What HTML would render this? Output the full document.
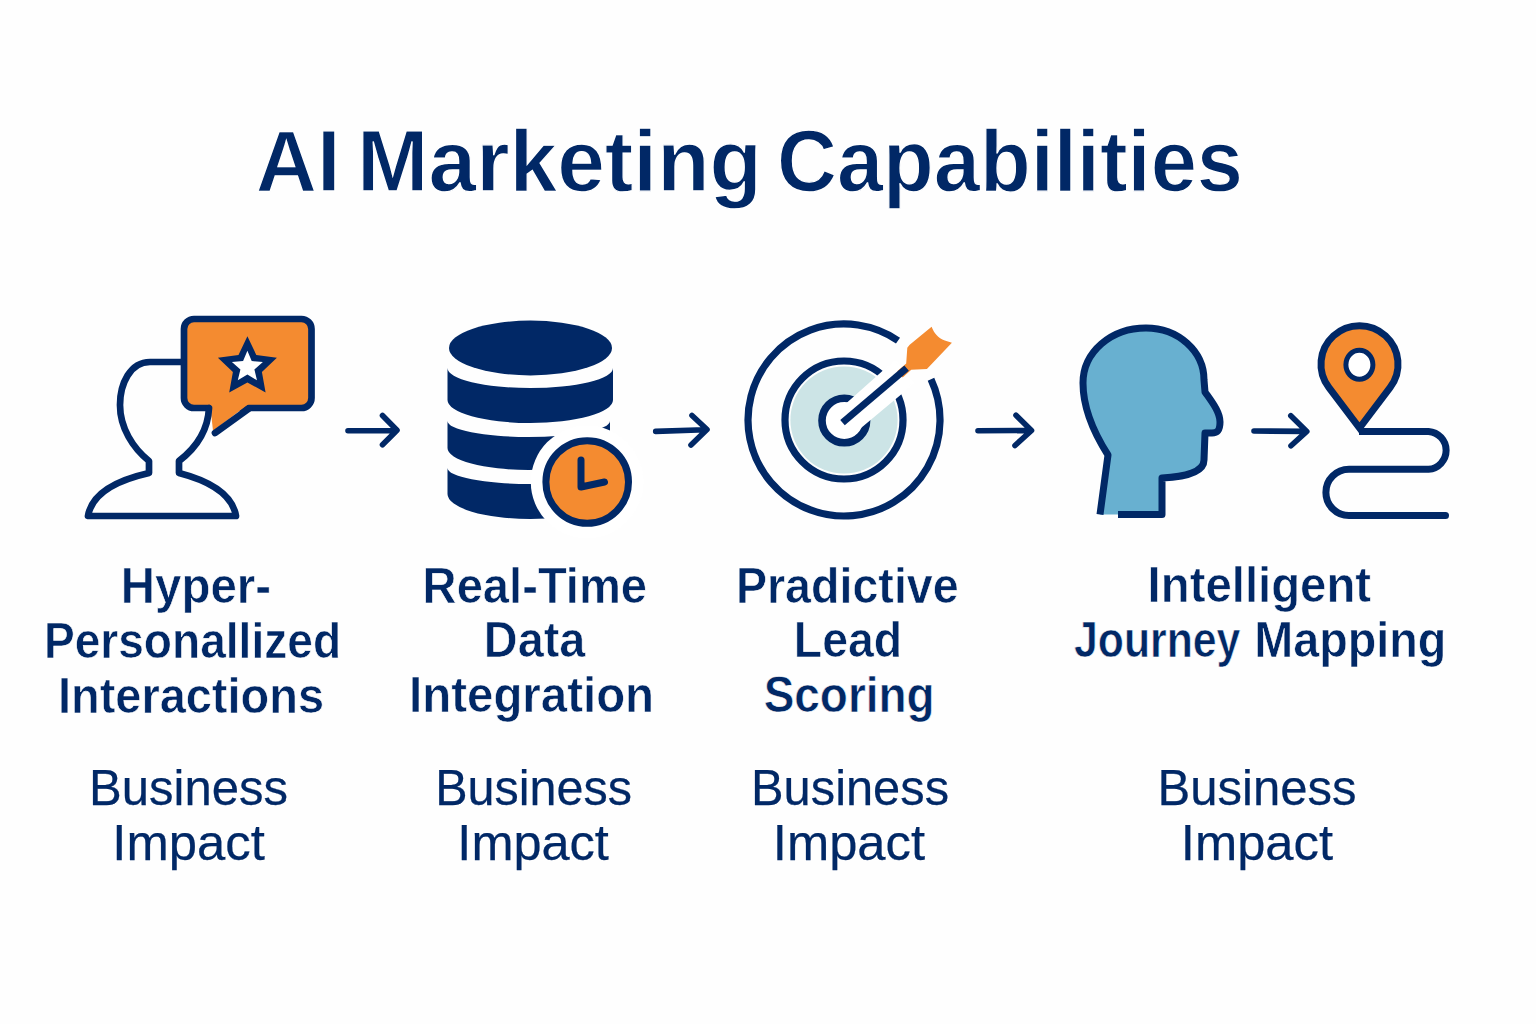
<!DOCTYPE html>
<html><head><meta charset="utf-8">
<style>
html,body{margin:0;padding:0;background:#fefefe;}
body{width:1536px;height:1024px;overflow:hidden;}
svg{display:block;}
.t{font-family:"Liberation Sans",sans-serif;fill:#012866;}
.b{font-weight:bold;}
</style></head>
<body>
<svg width="1536" height="1024" viewBox="0 0 1536 1024">
<rect width="1536" height="1024" fill="#fefefe"/>
<!-- Title -->
<g class="t b" font-size="88" stroke="#fff" stroke-width="1.3">
<text x="255.77" y="191.3" textLength="84.76" lengthAdjust="spacingAndGlyphs">AI</text>
<text x="357.11" y="191.3" textLength="404.77" lengthAdjust="spacingAndGlyphs">Marketing</text>
<text x="776.95" y="191.3" textLength="466.10" lengthAdjust="spacingAndGlyphs">Capabilities</text>
</g>

<!-- ICON 1: person + speech bubble -->
<g fill="none" stroke="#012866" stroke-width="6.7" stroke-linejoin="round" stroke-linecap="round">
  <rect x="184" y="319" width="127.5" height="89" rx="10" fill="#f48b30"/>
  <path d="M210 403 L213 431 L250 403 Z" fill="#f48b30" stroke="none"/>
  <path d="M215 433 L249 408.5"/>
  <path d="M183 362 L150 362 C130 362 120 384 120 405 C120 428 133 448 149 461 L149 473 C118 480 92 492 88 516 L236 516 C232 492 206 480 179 473 L179 461 C196 448 208 430 209 408"/>
  <path d="M247.4 336.3 L256.3 355.0 L276.9 357.7 L261.9 372.0 L265.6 392.4 L247.4 382.5 L229.2 392.4 L232.9 372.0 L217.9 357.7 L238.5 355.0 Z" fill="#012866" stroke="none"/>
  <path d="M247.4 350.8 L251.7 361.1 L262.9 362.1 L254.4 369.4 L257.0 380.3 L247.4 374.5 L237.8 380.3 L240.4 369.4 L231.9 362.1 L243.1 361.1 Z" fill="#fff" stroke="none"/>
</g>

<!-- ICON 2: database + clock -->
<g fill="#012866">
  <ellipse cx="530.5" cy="348" rx="81.5" ry="27.4"/>
  <path d="M447.5 368 A82.75 20 0 0 0 613 368 L613 400 A82.75 23 0 0 1 447.5 400 Z"/>
  <path d="M447.5 421 A81.25 16 0 0 0 610 421 L610 448 A81.25 22 0 0 1 447.5 448 Z"/>
  <path d="M447.5 468 A82.75 16 0 0 0 613 468 L613 494 A82.75 25 0 0 1 447.5 494 Z"/>
  <circle cx="587.2" cy="482" r="56.4" fill="#fff"/>
  <circle cx="587.2" cy="482" r="41.3" fill="#f48b30" stroke="#012866" stroke-width="7"/>
  <path d="M581 460 L581 487 L604.5 482" fill="none" stroke="#012866" stroke-width="7" stroke-linecap="round" stroke-linejoin="round"/>
</g>

<!-- ICON 3: target -->
<g fill="none" stroke="#012866" stroke-width="7.2">
  <circle cx="844" cy="420" r="53.6" fill="#cce4e6" stroke="none"/>
  <path d="M930.98 379.35 A96 96 0 1 1 897.99 340.62"/>
  <circle cx="844" cy="420" r="59"/>
  <circle cx="844.3" cy="420.5" r="22.3" fill="#fff" stroke-width="7.6"/>
  <path d="M835.44 414.26 L895.19 360.99 L913.49 382.84 L852.13 434.20 Z" fill="#fff" stroke="#fff" stroke-width="2"/>
  <path d="M931.6 326.7 C934 333 938 338 944.8 340.4 L951.9 342.7 L926.9 368.9 L911.25 369.7 L902.7 377.5 L897.2 371.25 L906.2 363.4 L907.3 347.8 L909.7 344.7 Z" fill="#f48b30" stroke="none"/>
  <path d="M842.5 422.7 L906.6 368.1" stroke-width="7"/>
</g>

<!-- ICON 4: head -->
<path id="hd" d="M1100 514.5 L1108 455 C1092 430 1083 407 1083 383 C1083 352 1111 328 1146 328 C1178 328 1204 351 1204 380 L1205 392 C1212 402 1220 412 1220 422 C1220 430 1218 433 1212 433 L1205 433 L1204 460 C1204 472 1185 477 1162 478 L1162 514.5 Z" fill="#68b0d0"/>
<path d="M1100 514.5 L1108 455 C1092 430 1083 407 1083 383 C1083 352 1111 328 1146 328 C1178 328 1204 351 1204 380 L1205 392 C1212 402 1220 412 1220 422 C1220 430 1218 433 1212 433 L1205 433 L1204 460 C1204 472 1185 477 1162 478 L1162 514.5 L1118 514.5" fill="none" stroke="#012866" stroke-width="7" stroke-linejoin="round"/>

<!-- ICON 5: pin + path -->
<g fill="none" stroke="#012866" stroke-width="7" stroke-linejoin="round" stroke-linecap="round">
  <path d="M1359.5 428 L1328.8 387.4 A38.5 38.5 0 1 1 1390.2 387.4 Z" fill="#f48b30" stroke-linejoin="miter" stroke-miterlimit="10"/>
  <ellipse cx="1359.4" cy="364.7" rx="13.5" ry="14.5" fill="#fff" stroke-width="5"/>
  <path d="M1359 431.4 L1428.5 431.4 A19 19 0 0 1 1428.5 469.3 L1349 469.3 A23.1 23.1 0 0 0 1349 515.5 L1445.5 515.5" stroke-linecap="butt"/>
  <path d="M1440 515.5 L1445.5 515.5"/>
</g>

<!-- Arrows -->
<g fill="none" stroke="#012866" stroke-width="5.6" stroke-linecap="round" stroke-linejoin="round">
  <path d="M348 430.8 L396 430.5 M382.5 415.5 L397 430.3 L382.5 444.8"/>
  <path d="M655.7 431.4 L705 429.8 M692 415.5 L707 429.5 L691 445"/>
  <path d="M978 430.8 L1030 430.5 M1016 415.3 L1031.5 430.5 L1015 445.5"/>
  <path d="M1254 431 L1305 431.4 M1290.8 415.8 L1306.8 431.4 L1291 445.8"/>
</g>

<!-- Labels -->
<g class="t b" font-size="50" stroke="#fff" stroke-width="0.6">
  <text x="120.87" y="603" textLength="150.18" lengthAdjust="spacingAndGlyphs">Hyper-</text>
  <text x="43.93" y="657.5" textLength="297.15" lengthAdjust="spacingAndGlyphs">Personallized</text>
  <text x="57.92" y="712.8" textLength="266.12" lengthAdjust="spacingAndGlyphs">Interactions</text>
  <text x="422.61" y="602.7" textLength="224.46" lengthAdjust="spacingAndGlyphs">Real-Time</text>
  <text x="483.87" y="657" textLength="101.53" lengthAdjust="spacingAndGlyphs">Data</text>
  <text x="409.10" y="712" textLength="244.96" lengthAdjust="spacingAndGlyphs">Integration</text>
  <text x="735.92" y="602.7" textLength="222.75" lengthAdjust="spacingAndGlyphs">Pradictive</text>
  <text x="793.81" y="657.3" textLength="108.38" lengthAdjust="spacingAndGlyphs">Lead</text>
  <text x="763.65" y="712.3" textLength="171.05" lengthAdjust="spacingAndGlyphs">Scoring</text>
  <text x="1147.62" y="602.4" textLength="223.44" lengthAdjust="spacingAndGlyphs">Intelligent</text>
  <text x="1074.00" y="657" textLength="166.33" lengthAdjust="spacingAndGlyphs">Journey</text>
  <text x="1254.24" y="657" textLength="192.03" lengthAdjust="spacingAndGlyphs">Mapping</text>
</g>
<g class="t" font-size="50" stroke="#012866" stroke-width="0.25">
  <text x="89.04" y="804.7" textLength="199.01" lengthAdjust="spacingAndGlyphs">Business</text>
  <text x="112.36" y="860.3" textLength="152.47" lengthAdjust="spacingAndGlyphs">Impact</text>
  <text x="435.18" y="804.7" textLength="196.70" lengthAdjust="spacingAndGlyphs">Business</text>
  <text x="457.36" y="860.3" textLength="151.48" lengthAdjust="spacingAndGlyphs">Impact</text>
  <text x="751.09" y="804.7" textLength="197.98" lengthAdjust="spacingAndGlyphs">Business</text>
  <text x="772.85" y="860.3" textLength="152.15" lengthAdjust="spacingAndGlyphs">Impact</text>
  <text x="1157.53" y="804.7" textLength="198.98" lengthAdjust="spacingAndGlyphs">Business</text>
  <text x="1180.85" y="860.3" textLength="152.15" lengthAdjust="spacingAndGlyphs">Impact</text>
</g>
</svg>
</body></html>
